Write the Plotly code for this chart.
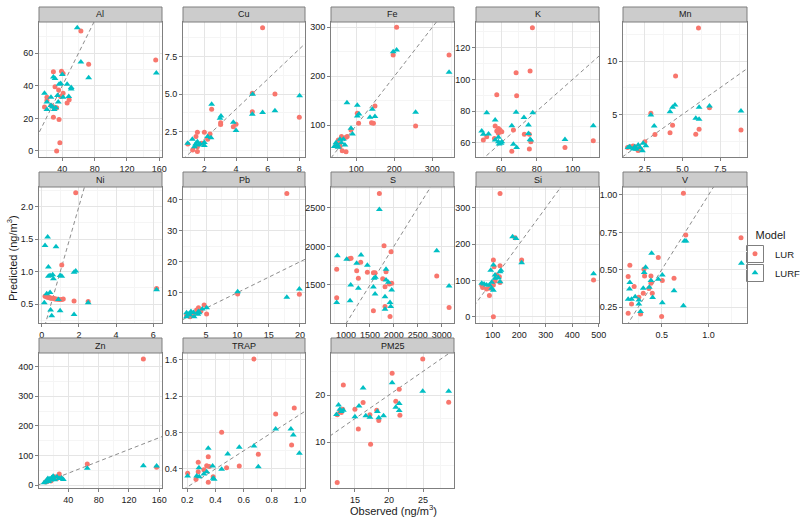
import plotly.graph_objects as go

W, H = 800, 521
RED = "#F8766D"
TEAL = "#00BFC4"
FONT = "Liberation Sans, Arial, sans-serif"

# ---------------- data (observed vs predicted) ----------------
PANELS = ["Al", "Cu", "Fe", "K", "Mn", "Ni", "Pb", "S", "Si", "V", "Zn", "TRAP", "PM25"]

AL_LUR_X = [63, 155.5, 72.6, 29, 39, 41, 31, 35.5, 21, 41, 46, 48.5, 18, 29.5, 33, 29, 36, 37, 33, 38, 21, 26]
AL_LUR_Y = [73.6, 55.8, 53.2, 48.7, 49, 47.5, 39.5, 37.5, 33, 35.5, 29.5, 31.5, 27, 27, 26.5, 20.7, 19.3, 5, 0, 33.5, 31, 28]
AL_LURF_X = [58.5, 156.3, 63, 72.6, 29, 31, 40, 18, 21, 26, 34, 38, 36, 46, 51, 51, 48, 41, 32, 30, 26, 21, 35, 28]
AL_LURF_Y = [75.7, 47.9, 54.6, 45, 45.5, 44.5, 47, 35.5, 30, 33, 34, 41.5, 41, 41, 39, 38, 33.5, 33, 26.5, 25.5, 28, 25.5, 30, 27]

CU_LUR_X = [5.68, 6.46, 5.03, 5.03, 8.0, 2.46, 3.03, 3.03, 3.83, 4.0, 2.36, 2.0, 1.56, 1.47, 2.21, 1.56, 1.26, 1.56, 0.95, 1.83]
CU_LUR_Y = [9.43, 5.01, 5.06, 3.83, 3.46, 3.99, 3.1, 2.97, 2.83, 3.0, 2.34, 2.46, 2.46, 2.17, 1.99, 1.5, 1.28, 1.17, 1.68, 1.72]
CU_LURF_X = [8.02, 5.05, 5.03, 5.68, 6.46, 2.46, 3.05, 2.99, 3.83, 4.0, 2.21, 2.42, 2.0, 2.0, 1.56, 1.45, 1.24, 0.95, 1.62, 1.37, 1.73]
CU_LURF_Y = [4.9, 4.99, 3.66, 3.77, 3.9, 4.32, 3.54, 3.39, 3.12, 2.57, 2.17, 2.1, 1.77, 1.57, 1.83, 1.68, 1.99, 1.72, 1.61, 1.5, 1.68]

FE_LUR_X = [206, 344, 197, 256, 149, 140, 145, 102.6, 106, 86, 61, 73, 76, 52.6, 57, 63, 73, 52.6, 46.5]
FE_LUR_Y = [300, 243.5, 243.5, 98.6, 139.5, 105, 104, 124.5, 104, 90.5, 77, 75.5, 77, 70, 56.5, 48, 46, 62, 58]
FE_LURF_X = [197, 206, 344, 256, 75.4, 102.6, 142, 149, 136, 102.6, 107, 86, 90, 66, 57, 50, 46.5, 61, 70, 52.6, 42]
FE_LURF_Y = [250, 253.7, 208, 126.5, 146, 141, 132.6, 117.7, 116.3, 119, 123, 94, 82.3, 71.4, 71.4, 60, 64.6, 64.6, 60, 55, 56.5]

K_LUR_X = [77.5, 68.4, 76.2, 57.6, 68.7, 56.7, 58.5, 59.4, 60.4, 57.6, 58.5, 52, 50.1, 56.3, 66.9, 73, 75.8, 76.6, 75.8, 66, 95.7, 111.5]
K_LUR_Y = [132.6, 104.2, 105.3, 90.3, 89.7, 70.5, 69, 68, 67, 67.4, 66, 63.8, 61.7, 62.7, 68, 65.3, 65.3, 60.6, 56, 54.7, 57, 61.3]
K_LURF_X = [49.2, 50.1, 53, 52, 56.7, 68.4, 77.7, 72.8, 75.3, 66, 58.5, 56.7, 58.5, 60, 60.4, 58.9, 66.9, 68.7, 75.3, 76.2, 76.6, 95.7, 111.5]
K_LURF_Y = [67.4, 65.3, 65.5, 79, 74.3, 79.2, 79, 76, 71.2, 70.7, 63.4, 61.7, 60.6, 59.6, 60.6, 59.2, 59, 57, 65.9, 62.1, 61.7, 62.1, 70.7]

MN_LUR_X = [6.06, 4.54, 2.9, 3.17, 4.34, 4.17, 5.88, 6.1, 6.79, 8.88, 2.5, 1.5, 1.72, 1.94, 2.22, 1.35, 2.05, 1.85]
MN_LUR_Y = [13.1, 8.6, 5.1, 3.1, 3.97, 3.28, 3.13, 3.6, 5.63, 3.53, 2.44, 1.97, 2.03, 1.81, 1.75, 1.9, 1.6, 1.95]
MN_LURF_X = [8.88, 6.1, 6.79, 5.88, 6.1, 4.5, 4.34, 4.17, 2.9, 3.12, 2.57, 2.39, 2.06, 1.83, 1.5, 1.39, 1.72, 1.94, 2.34, 2.17]
MN_LURF_Y = [5.31, 5.66, 5.78, 4.63, 4.53, 5.88, 5.66, 5.25, 4.94, 3.9, 2.06, 2.28, 2.13, 1.97, 1.97, 1.88, 1.75, 1.72, 1.59, 1.88]

NI_LUR_X = [1.83, 1.08, 0.18, 0.27, 0.36, 0.42, 0.48, 0.55, 0.63, 0.7, 0.77, 0.86, 0.95, 1.08, 1.16, 1.74, 2.5, 6.18]
NI_LUR_Y = [2.21, 1.1, 0.62, 0.61, 0.6, 0.6, 0.59, 0.59, 0.59, 0.58, 0.58, 0.575, 0.57, 0.57, 0.58, 0.55, 0.54, 0.74]
NI_LURF_X = [0.32, 0.18, 0.77, 0.36, 0.45, 0.59, 0.63, 0.36, 0.99, 1.08, 1.74, 1.83, 0.45, 0.27, 0.14, 0.48, 0.99, 0.54, 1.74, 0.9, 2.5, 6.18]
NI_LURF_Y = [1.53, 1.4, 1.38, 1.07, 0.94, 0.95, 0.89, 0.93, 0.94, 0.93, 0.99, 1.01, 0.68, 0.66, 0.52, 0.41, 0.4, 0.32, 0.34, 0.57, 0.52, 0.72]

PB_LUR_X = [17.9, 19.9, 10.05, 4.7, 5.1, 3.8, 3.5, 2.6, 1.9, 2.45, 3.0, 3.7, 4.2]
PB_LUR_Y = [42.1, 9.5, 9.6, 6.0, 3.1, 5.1, 4.4, 3.0, 2.6, 2.2, 2.8, 3.5, 4.1]
PB_LURF_X = [17.9, 19.9, 10.05, 5.1, 4.4, 3.8, 3.7, 3.9, 3.0, 2.6, 1.9, 1.9, 2.45, 3.1, 2.2]
PB_LURF_Y = [8.5, 11.2, 10.3, 5.1, 4.7, 3.9, 3.0, 3.5, 3.6, 3.9, 3.5, 2.2, 2.8, 2.2, 3.0]

S_LUR_X = [1697, 1795, 1941, 805, 1070, 1105, 1307, 1223, 1258, 1446, 1572, 1607, 1836, 1767, 1955, 1906, 1815, 805, 1572, 1815, 1920, 2896, 3154]
S_LUR_Y = [2685, 2009, 1931, 1703, 1840, 1845, 1793, 1685, 1586, 1664, 1659, 1659, 1672, 1582, 1522, 1513, 1478, 1336, 1168, 1220, 1091, 1616, 1207]
S_LURF_X = [1697, 2896, 3154, 819, 1014, 1314, 1223, 1446, 1572, 1586, 1614, 1836, 1836, 1885, 1955, 1815, 1607, 1098, 1258, 1084, 805, 1920, 1934, 1815]
S_LURF_Y = [2478, 1944, 1487, 1879, 1832, 1888, 1780, 1754, 1474, 1586, 1599, 1703, 1565, 1535, 1435, 1349, 1384, 1500, 1457, 1297, 1272, 1272, 1220, 1186]

SI_LUR_X = [127.6, 184, 209, 480, 102.5, 105, 127.6, 115, 125, 102.5, 77, 62, 90, 87.5, 102.5, 58.6, 127.6, 108.8]
SI_LUR_Y = [339, 217, 156, 101, 156, 137.6, 140, 114.6, 110, 87, 76, 80, 78, 58, 0, 87, 94, 98]
SI_LURF_X = [175, 188, 209, 480, 102.5, 92.5, 131, 127.6, 108.8, 121.3, 58.6, 67.4, 77, 87.5, 96.2, 102.5, 96.2, 108.8, 127.6]
SI_LURF_Y = [220, 215.5, 148.5, 118, 142, 128, 128, 124, 114.6, 107, 91.7, 90, 87, 87, 94.5, 73, 78, 105.5, 96]

V_LUR_X = [0.732, 0.757, 1.346, 0.464, 0.161, 0.143, 0.311, 0.318, 0.386, 0.507, 0.632, 0.207, 0.364, 0.386, 0.4, 0.304, 0.257, 0.179, 0.275, 0.143, 0.5]
V_LUR_Y = [1.012, 0.733, 0.715, 0.582, 0.531, 0.455, 0.504, 0.459, 0.459, 0.428, 0.444, 0.388, 0.375, 0.41, 0.344, 0.344, 0.317, 0.272, 0.205, 0.21, 0.188]
V_LURF_X = [0.743, 0.76, 1.35, 0.393, 0.329, 0.314, 0.507, 0.464, 0.386, 0.161, 0.157, 0.304, 0.218, 0.404, 0.143, 0.179, 0.257, 0.257, 0.275, 0.507, 0.632, 0.732, 0.368]
V_LURF_Y = [0.693, 0.693, 0.544, 0.61, 0.517, 0.482, 0.466, 0.437, 0.428, 0.415, 0.372, 0.377, 0.321, 0.315, 0.303, 0.303, 0.299, 0.272, 0.221, 0.281, 0.361, 0.261, 0.384]

ZN_LUR_X = [139, 65, 156.5, 28, 20, 15, 12, 18, 22, 25, 10, 13, 30, 17]
ZN_LUR_Y = [425.7, 71, 59.7, 37, 25, 15, 12, 20, 28, 22, 10, 18, 25, 14]
ZN_LURF_X = [139, 156.5, 65, 33.4, 31, 28, 20, 18, 15, 12, 10, 14, 22, 25, 17, 13, 8, 19]
ZN_LURF_Y = [65.3, 64.2, 56.3, 19, 23.6, 22, 30, 25, 20, 15, 10, 12, 18, 28, 17, 22, 8, 22]

TRAP_LUR_X = [0.673, 0.444, 0.278, 0.349, 0.338, 0.356, 0.318, 0.278, 0.203, 0.262, 0.349, 0.384, 0.479, 0.569, 0.704, 0.959, 0.827, 0.94]
TRAP_LUR_Y = [1.61, 0.804, 0.474, 0.535, 0.436, 0.426, 0.39, 0.37, 0.353, 0.287, 0.253, 0.315, 0.414, 0.433, 0.562, 1.07, 1.005, 0.664]
TRAP_LURF_X = [0.349, 0.569, 0.673, 0.487, 0.704, 0.38, 0.444, 0.283, 0.338, 0.318, 0.267, 0.285, 0.203, 0.384, 0.391, 0.827, 0.935, 0.952, 0.995]
TRAP_LURF_Y = [0.628, 0.639, 0.653, 0.565, 0.425, 0.433, 0.397, 0.414, 0.37, 0.345, 0.323, 0.315, 0.323, 0.298, 0.287, 0.84, 0.84, 0.775, 0.573]

PM25_LUR_X = [24.95, 20.46, 13.3, 21.5, 16.2, 21.0, 28.76, 15.0, 18.2, 13.2, 12.8, 12.4, 17.2, 21.6, 18.5, 15.5, 17.3, 12.4, 13.0]
PM25_LUR_Y = [27.6, 24.6, 22.1, 21.2, 18.4, 18.7, 18.45, 17.0, 16.8, 17.0, 16.5, 15.8, 15.8, 15.7, 14.6, 12.8, 9.6, 1.5, 16.3]
PM25_LURF_X = [28.76, 24.95, 20.46, 16.2, 12.6, 15.6, 21.5, 21.0, 21.5, 13.3, 13.0, 12.8, 12.3, 15.0, 16.6, 17.2, 19.2, 18.3, 18.5]
PM25_LURF_Y = [20.8, 20.8, 22.6, 21.5, 17.9, 17.7, 18.2, 17.4, 16.7, 16.8, 16.5, 17.0, 15.9, 15.4, 15.6, 15.3, 15.6, 16.5, 15.2]

SERIES = {
    "Al": (AL_LUR_X, AL_LUR_Y, AL_LURF_X, AL_LURF_Y),
    "Cu": (CU_LUR_X, CU_LUR_Y, CU_LURF_X, CU_LURF_Y),
    "Fe": (FE_LUR_X, FE_LUR_Y, FE_LURF_X, FE_LURF_Y),
    "K": (K_LUR_X, K_LUR_Y, K_LURF_X, K_LURF_Y),
    "Mn": (MN_LUR_X, MN_LUR_Y, MN_LURF_X, MN_LURF_Y),
    "Ni": (NI_LUR_X, NI_LUR_Y, NI_LURF_X, NI_LURF_Y),
    "Pb": (PB_LUR_X, PB_LUR_Y, PB_LURF_X, PB_LURF_Y),
    "S": (S_LUR_X, S_LUR_Y, S_LURF_X, S_LURF_Y),
    "Si": (SI_LUR_X, SI_LUR_Y, SI_LURF_X, SI_LURF_Y),
    "V": (V_LUR_X, V_LUR_Y, V_LURF_X, V_LURF_Y),
    "Zn": (ZN_LUR_X, ZN_LUR_Y, ZN_LURF_X, ZN_LURF_Y),
    "TRAP": (TRAP_LUR_X, TRAP_LUR_Y, TRAP_LURF_X, TRAP_LURF_Y),
    "PM25": (PM25_LUR_X, PM25_LUR_Y, PM25_LURF_X, PM25_LURF_Y),
}

# ---------------- layout configuration ----------------
# axis ranges, major dtick, tick format  (x, y)
AXES = {
    "Al":   ([11.2, 163.3], 40, "", [-3.7, 79.2], 20, ""),
    "Cu":   ([0.65, 8.36], 2, "", [0.81, 9.81], 2.5, ".1f"),
    "Fe":   ([33.4, 357], 100, "", [35.3, 310.8], 100, ""),
    "K":    ([46, 114.7], 20, "", [51, 136.2], 20, ""),
    "Mn":   ([1.05, 9.28], 2.5, ".1f", [1.0, 13.66], 5, ""),
    "Ni":   ([-0.145, 6.47], 2, "", [0.21, 2.30], 0.5, ".1f"),
    "Pb":   ([1.33, 20.8], 5, "", [0.19, 44.2], 10, ""),
    "S":    ([686, 3257], 500, "", [1008, 2768], 500, ""),
    "Si":   ([37, 500.5], 100, "", [-17.4, 357], 100, ""),
    "V":    ([0.088, 1.41], 0.5, ".1f", [0.145, 1.053], 0.25, ".2f"),
    "Zn":   ([1.3, 163.6], 40, "", [-10, 446], 100, ""),
    "TRAP": ([0.17, 1.035], 0.2, ".1f", [0.19, 1.677], 0.4, ".1f"),
    "PM25": ([11.49, 29.54], 5, "", [0.34, 28.88], 10, ""),
}

COLS_PX = [(39, 162), (183, 305), (331, 454), (476, 599), (623, 747)]
ROWS_PX = [(22, 157), (187, 323), (353, 488)]  # panel top, bottom
STRIP_H = 15

fig = go.Figure()
layout = dict(
    width=W, height=H,
    margin=dict(l=0, r=0, t=0, b=0, autoexpand=False),
    paper_bgcolor="white", plot_bgcolor="white",
    font=dict(family=FONT, size=9, color="#1a1a1a"),
    showlegend=True,
)
shapes = []
annotations = []

def px2fx(px):
    return px / W

def px2fy(py):
    return 1 - py / H

for i, name in enumerate(PANELS):
    r, c = divmod(i, 5)
    k = i + 1
    xa = "x" if k == 1 else f"x{k}"
    ya = "y" if k == 1 else f"y{k}"
    xr, xdt, xfmt, yr, ydt, yfmt = AXES[name]
    x0, x1 = COLS_PX[c]
    top, bot = ROWS_PX[r]
    common = dict(
        showgrid=True, gridcolor="#E5E5E5", gridwidth=1,
        zeroline=False, showline=True, mirror=True, linecolor="#7F7F7F", linewidth=1,
        ticks="outside", ticklen=3, tickcolor="#7F7F7F", tickwidth=1,
        tickfont=dict(size=9, color="#1a1a1a", family=FONT),
        tick0=0,
    )
    layout["xaxis" if k == 1 else f"xaxis{k}"] = dict(
        common, domain=[px2fx(x0), px2fx(x1)], range=xr, dtick=xdt, tickformat=xfmt,
        anchor=ya, minor=dict(dtick=xdt / 2, tick0=0, showgrid=True, gridcolor="#F5F5F5", ticks=""),
    )
    layout["yaxis" if k == 1 else f"yaxis{k}"] = dict(
        common, domain=[px2fy(bot), px2fy(top)], range=yr, dtick=ydt, tickformat=yfmt,
        anchor=xa, minor=dict(dtick=ydt / 2, tick0=0, showgrid=True, gridcolor="#F5F5F5", ticks=""),
    )
    # strip
    shapes.append(dict(type="rect", xref="paper", yref="paper",
                       x0=px2fx(x0), x1=px2fx(x1), y0=px2fy(top), y1=px2fy(top - STRIP_H),
                       fillcolor="#CCCCCC", line=dict(color="#7F7F7F", width=1), layer="above"))
    annotations.append(dict(text=name, xref="paper", yref="paper",
                            x=px2fx((x0 + x1) / 2), y=px2fy(top - STRIP_H / 2),
                            showarrow=False, font=dict(size=9, color="#1a1a1a"),
                            xanchor="center", yanchor="middle"))
    # identity reference line
    lo = min(xr[0], yr[0])
    hi = max(xr[1], yr[1])
    fig.add_trace(go.Scatter(x=[lo, hi], y=[lo, hi], mode="lines", xaxis=xa, yaxis=ya,
                             line=dict(color="#8C8C8C", width=1, dash="4px,3px"),
                             showlegend=False, hoverinfo="skip"))
    lx, ly, fx, fy = SERIES[name]
    fig.add_trace(go.Scatter(x=lx, y=ly, mode="markers", xaxis=xa, yaxis=ya, name="LUR",
                             legendgroup="LUR", showlegend=(i == 0),
                             marker=dict(symbol="circle", size=5, color=RED)))
    fig.add_trace(go.Scatter(x=fx, y=fy, mode="markers", xaxis=xa, yaxis=ya, name="LURF",
                             legendgroup="LURF", showlegend=(i == 0),
                             marker=dict(symbol="triangle-up", size=6, color=TEAL)))

# axis titles
annotations.append(dict(text="Observed (ng/m<sup>3</sup>)", xref="paper", yref="paper",
                        x=px2fx(393), y=px2fy(510), showarrow=False,
                        font=dict(size=11, color="#1a1a1a"), xanchor="center", yanchor="middle"))
annotations.append(dict(text="Predicted (ng/m<sup>3</sup>)", xref="paper", yref="paper",
                        x=px2fx(12), y=px2fy(258), showarrow=False, textangle=-90,
                        font=dict(size=11, color="#1a1a1a"), xanchor="center", yanchor="middle"))

# legend key boxes (ggplot-style key outlines)
KEY_CX = 755
for cy in (254, 273):
    shapes.append(dict(type="rect", xref="paper", yref="paper",
                       x0=px2fx(KEY_CX - 8.5), x1=px2fx(KEY_CX + 8.5),
                       y0=px2fy(cy + 8.5), y1=px2fy(cy - 8.5),
                       fillcolor="rgba(0,0,0,0)", line=dict(color="#7F7F7F", width=1), layer="below"))

layout["shapes"] = shapes
layout["annotations"] = annotations
layout["legend"] = dict(
    x=px2fx(735), y=px2fy(225), xanchor="left", yanchor="top",
    title=dict(text="Model", font=dict(size=11, color="#1a1a1a"), side="top center"),
    font=dict(size=9.5, color="#1a1a1a"), bgcolor="rgba(0,0,0,0)",
    itemwidth=30, tracegroupgap=0,
)
fig.update_layout(**layout)
fig.write_html("out.html", config={"displayModeBar": False},
               post_script="document.body.style.margin='0px';")
